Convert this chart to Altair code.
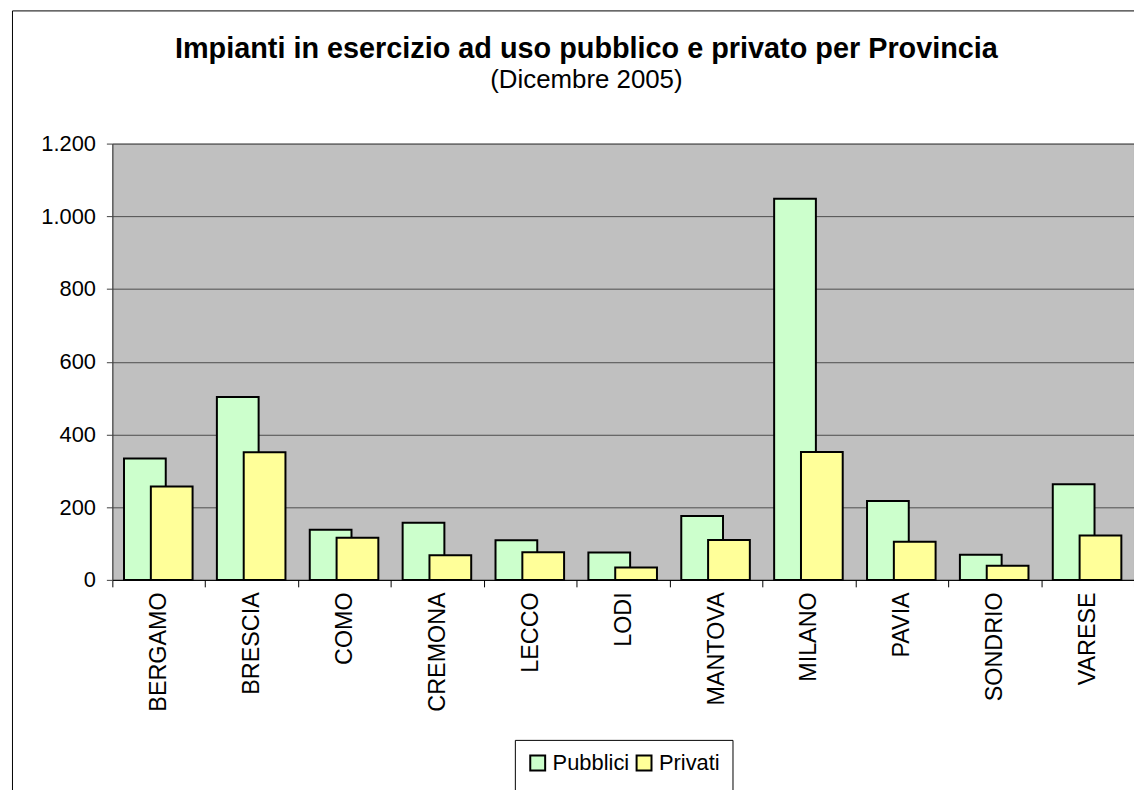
import altair as alt
import pandas as pd

province = ["BERGAMO", "BRESCIA", "COMO", "CREMONA", "LECCO", "LODI",
            "MANTOVA", "MILANO", "PAVIA", "SONDRIO", "VARESE"]
pubblici = [334, 503, 138, 157, 109, 75, 176, 1048, 217, 69, 263]
privati = [257, 351, 116, 68, 76, 34, 110, 352, 105, 39, 122]
serie = ["Pubblici", "Privati"]
colori = ["#CCFFCC", "#FFFF99"]
y_ticks = [0, 200, 400, 600, 800, 1000, 1200]

rows = []
for p, a, b in zip(province, pubblici, privati):
    rows.append({"provincia": p, "serie": serie[0], "valore": a})
    rows.append({"provincia": p, "serie": serie[1], "valore": b})
df = pd.DataFrame(rows)

FONT = "Arial, Liberation Sans, sans-serif"

x_enc = alt.X(
    "provincia:N",
    sort=province,
    scale=alt.Scale(paddingInner=0, paddingOuter=0),
    axis=alt.Axis(
        title=None, labelAngle=-90, labelFontSize=23.5, labelFont=FONT,
        labelColor="black", labelPadding=5, tickBand="extent", tickSize=7,
        tickColor="black", domainColor="black", grid=False,
    ),
)
y_enc = alt.Y(
    "valore:Q",
    scale=alt.Scale(domain=[0, 1200], nice=False),
    axis=alt.Axis(
        title=None, values=y_ticks, labelFontSize=22, labelFont=FONT,
        labelColor="black", labelPadding=11, tickSize=6, tickColor="#404040",
        domainColor="#404040", grid=True, gridColor="#4d4d4d", gridWidth=1,
        labelExpr="replace(format(datum.value, ','), ',', '.')",
    ),
)
color_enc = alt.Color(
    "serie:N",
    scale=alt.Scale(domain=serie, range=colori),
    legend=alt.Legend(
        title=" ", titleOrient="bottom", titleFontSize=6, titlePadding=2,
        orient="none", legendX=405, legendY=600,
        direction="horizontal", strokeColor="black", fillColor="white",
        padding=12, labelFontSize=22, labelFont=FONT, labelColor="black",
        symbolType="square", symbolSize=225, symbolStrokeColor="black",
        symbolStrokeWidth=2, labelOffset=4, columnPadding=2,
    ),
)

base = alt.Chart(df)
bars_pub = base.transform_filter(alt.datum.serie == serie[0]).mark_bar(
    width=42, xOffset=-14, stroke="black", strokeWidth=2
).encode(x=x_enc, y=y_enc, color=color_enc)
bars_pri = base.transform_filter(alt.datum.serie == serie[1]).mark_bar(
    width=42, xOffset=13, stroke="black", strokeWidth=2
).encode(x=x_enc, y=y_enc, color=color_enc)

frame = alt.Chart(alt.Data(values=[{"f": 1}])).mark_rect(
    fill="transparent", stroke="black", strokeWidth=1, clip=False
).encode(
    x=alt.value(-100.5), y=alt.value(-133.5),
    x2=alt.value(1200), y2=alt.value(700),
)

chart = alt.layer(frame, bars_pub, bars_pri).properties(
    width=1028,
    height=439,
    title=alt.TitleParams(
        text="Impianti in esercizio ad uso pubblico e privato per Provincia",
        subtitle="(Dicembre 2005)",
        font=FONT, fontSize=29, fontWeight="bold", color="black",
        subtitleFont=FONT, subtitleFontSize=26, subtitleColor="black",
        subtitlePadding=3, anchor="middle", frame="group", dx=-37, offset=-83,
    ),
    autosize=alt.AutoSizeParams(type="none"),
    padding={"left": 105, "top": 134, "right": 0, "bottom": 209},
).configure_view(
    fill="#C0C0C0", stroke="#808080", strokeWidth=1
)

chart.save("out.html", embed_options={"renderer": "svg", "actions": False})
